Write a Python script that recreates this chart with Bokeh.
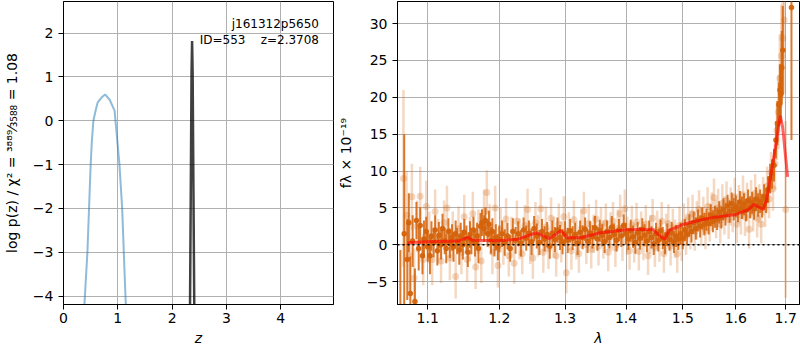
from bokeh.plotting import figure
from bokeh.layouts import row
from bokeh.models import Range1d, FixedTicker, Label, ColumnDataSource, PrintfTickFormatter
from bokeh.core.properties import value
from bokeh.embed import file_html
from bokeh.resources import INLINE

# ---------------- data: left panel (redshift PDF) ----------------
pz_x_ticks = [0, 1, 2, 3, 4]
pz_y_ticks = [-4, -3, -2, -1, 0, 1, 2]
pz_blue_z = [0.38, 0.44, 0.47, 0.50, 0.52, 0.55, 0.59, 0.63, 0.70, 0.765, 0.85, 0.94, 1.03, 1.08, 1.11, 1.15]
pz_blue_logp = [-4.3, -3.0, -2.0, -1.0, -0.5, 0.0, 0.23, 0.42, 0.53, 0.60, 0.48, 0.23, -1.0, -2.0, -3.0, -4.3]
pz_black_z = [2.328, 2.343, 2.357, 2.367, 2.377, 2.392, 2.408]
pz_black_logp = [-4.4, -1.6, 1.1, 1.82, 1.1, -1.6, -4.4]
annot_text = ["j161312p5650", "ID=553\u00a0\u00a0\u00a0\u00a0z=2.3708"]
annot_z = [4.703, 4.703]
annot_logp = [2.199, 1.849]
pz_ylabel = "log p(z) / χ² = ³⁸⁸⁹⁄₃₅₈₈ = 1.08"

# ---------------- data: right panel (spectrum) ----------------
wave_ticks = [1.1, 1.2, 1.3, 1.4, 1.5, 1.6, 1.7]
flux_ticks = [-5, 0, 5, 10, 15, 20, 25, 30]

light_wave = [1.068, 1.072, 1.076, 1.079, 1.082, 1.086, 1.090, 1.094, 1.098, 1.102, 1.106, 1.110, 1.114, 1.118,
              1.122, 1.126, 1.130, 1.134, 1.138, 1.142, 1.146, 1.150, 1.154, 1.158, 1.162, 1.166, 1.170, 1.174,
              1.178, 1.182, 1.186, 1.190, 1.194, 1.198, 1.202, 1.206, 1.210, 1.214, 1.218, 1.222, 1.226, 1.230,
              1.234, 1.238, 1.242, 1.246, 1.250, 1.254, 1.258, 1.262, 1.266, 1.270, 1.274, 1.278, 1.282, 1.286,
              1.290, 1.294, 1.298, 1.302, 1.306, 1.310, 1.314, 1.318, 1.322, 1.326, 1.330, 1.334, 1.338, 1.342,
              1.346, 1.350, 1.354, 1.358, 1.362, 1.366, 1.370, 1.374, 1.378, 1.382, 1.386, 1.390, 1.394, 1.398,
              1.402, 1.406, 1.410, 1.414, 1.418, 1.422, 1.426, 1.430, 1.434, 1.438, 1.442, 1.446, 1.450, 1.454,
              1.458, 1.462, 1.466, 1.470, 1.474, 1.478, 1.482, 1.486, 1.490, 1.494, 1.498, 1.502, 1.506, 1.510,
              1.514, 1.518, 1.522, 1.526, 1.530, 1.534, 1.538, 1.542, 1.546, 1.550, 1.554, 1.558, 1.562, 1.566,
              1.570, 1.574, 1.578, 1.582, 1.586, 1.590, 1.594, 1.598, 1.602, 1.606, 1.610, 1.614, 1.618, 1.622,
              1.626, 1.630, 1.634, 1.638, 1.642, 1.646, 1.650, 1.654, 1.658, 1.662, 1.666, 1.670, 1.674, 1.678,
              1.682, 1.685, 1.688, 1.691, 1.694, 1.697, 1.700]
light_flux = [9.0, 4.0, -1.5, 6.5, -4.5, 2.5, 6.6, -2.0, 5.2, 1.0, -2.0, 4.5, 0.5, -2.2,
              3.0, 5.0, -1.8, 1.5, -4.3, 2.2, -1.0, 3.8, -2.0, 0.8, 4.2, -3.0, 1.8, -2.2,
              4.5, 7.1, 2.5, -1.0, 5.0, -2.8, 2.0, 0.3, 3.5, -1.5, 1.0, -2.5, 3.2, 0.8,
              -1.2, 2.6, 4.8, 0.2, -1.8, 3.0, 1.2, 4.9, -1.0, 2.4, -0.5, 3.6, 1.0, -1.5,
              2.8, 0.4, 3.8, -3.8, 1.8, -0.8, 3.4, 0.6, -1.2, 2.2, 4.6, 0.0, 2.9, -0.6,
              1.5, 3.5, -0.2, 2.5, 0.7, 3.0, -1.0, 1.8, 3.2, -0.4, 2.2, 4.2, 0.4, 4.9,
              1.2, -0.8, 2.7, 0.2, 3.1, -0.9, 1.9, 0.5, 2.8, -1.5, 1.4, 3.6, -0.4, 2.0,
              0.3, 3.2, -1.2, 1.6, 2.9, -0.2, 2.3, 0.8, -1.2, 2.6, 0.4, 3.0, 1.2, 3.8,
              2.0, 4.2, 1.8, 3.3, 4.8, 2.4, 3.9, 2.0, 5.2, 3.0, 4.5, 6.4, 3.5, 5.0,
              2.8, 5.6, 4.0, 6.0, 3.4, 5.2, 4.3, 6.5, 2.8, 5.5, 4.0, 6.8, 3.8, 5.8,
              2.1, 6.2, 4.4, 7.0, 3.6, 5.6, 2.8, 6.6, 5.0, 8.0, 6.2, 9.8, 7.6, 11.0,
              15.5, 18.0, 22.6, 25.6, 28.0, 30.5, 4.8]
light_err = [12.0, 6.0, 5.0, 4.5, 4.0, 3.5, 4.0, 3.5, 3.5, 3.5, 3.5, 3.0, 3.0, 3.0,
             3.0, 3.0, 3.0, 3.0, 3.0, 3.0, 3.0, 3.0, 3.0, 3.0, 3.0, 3.0, 3.0, 3.0,
             3.0, 3.0, 3.0, 3.0, 3.0, 3.0, 3.0, 3.0, 2.8, 2.8, 2.8, 2.8, 2.8, 2.8,
             2.8, 2.8, 2.8, 2.8, 2.8, 2.8, 2.8, 2.8, 2.8, 2.8, 2.8, 2.8, 2.8, 2.8,
             2.8, 2.8, 2.8, 2.8, 2.6, 2.6, 2.6, 2.6, 2.6, 2.6, 2.6, 2.6, 2.6, 2.6,
             2.6, 2.6, 2.6, 2.6, 2.6, 2.6, 2.6, 2.6, 2.6, 2.6, 2.6, 2.6, 2.6, 2.6,
             2.6, 2.6, 2.6, 2.6, 2.6, 2.6, 2.6, 2.6, 2.6, 2.6, 2.6, 2.6, 2.6, 2.6,
             2.6, 2.6, 2.6, 2.6, 2.6, 2.6, 2.6, 2.6, 2.6, 2.6, 2.6, 2.6, 2.6, 2.6,
             2.6, 2.6, 2.6, 2.6, 2.6, 2.6, 2.6, 2.6, 2.6, 2.6, 2.6, 2.6, 2.6, 2.6,
             2.6, 2.6, 2.6, 2.6, 2.6, 2.6, 2.6, 2.6, 2.6, 2.6, 2.6, 2.6, 2.6, 2.6,
             2.6, 2.6, 2.6, 2.6, 2.6, 2.6, 2.6, 2.6, 2.6, 2.6, 2.6, 2.8, 3.0, 3.5,
             4.0, 5.0, 6.0, 7.0, 8.0, 10.0, 12.0]

dark_wave = [1.064, 1.069, 1.073, 1.075, 1.077, 1.080, 1.083, 1.085, 1.088, 1.090, 1.093, 1.095, 1.098, 1.100,
             1.103, 1.105, 1.108, 1.110, 1.113, 1.115, 1.118, 1.120, 1.123, 1.125, 1.128, 1.130, 1.133, 1.135,
             1.138, 1.140, 1.143, 1.145, 1.148, 1.150, 1.153, 1.155, 1.158, 1.160, 1.163, 1.165, 1.168, 1.170,
             1.173, 1.175, 1.178, 1.180, 1.183, 1.185, 1.188, 1.190, 1.193, 1.195, 1.198, 1.200, 1.204, 1.208,
             1.212, 1.216, 1.220, 1.224, 1.228, 1.232, 1.236, 1.240, 1.244, 1.248, 1.252, 1.256, 1.260, 1.264,
             1.268, 1.272, 1.276, 1.280, 1.284, 1.288, 1.292, 1.296, 1.300, 1.304, 1.308, 1.312, 1.316, 1.320,
             1.324, 1.328, 1.332, 1.336, 1.340, 1.344, 1.348, 1.352, 1.356, 1.360, 1.364, 1.368, 1.372, 1.376,
             1.380, 1.384, 1.388, 1.392, 1.396, 1.400, 1.404, 1.408, 1.412, 1.416, 1.420, 1.424, 1.428, 1.432,
             1.436, 1.440, 1.444, 1.448, 1.452, 1.456, 1.460, 1.464, 1.468, 1.472, 1.476, 1.480, 1.484, 1.488,
             1.492, 1.496, 1.500, 1.504, 1.508, 1.512, 1.516, 1.520, 1.524, 1.528, 1.532, 1.536, 1.540, 1.544,
             1.548, 1.552, 1.556, 1.560, 1.564, 1.568, 1.572, 1.576, 1.580, 1.584, 1.588, 1.592, 1.596, 1.600,
             1.604, 1.608, 1.612, 1.616, 1.620, 1.624, 1.628, 1.632, 1.636, 1.640, 1.644, 1.648, 1.652, 1.656,
             1.660, 1.664, 1.668, 1.672, 1.676, 1.680, 1.683, 1.686, 1.688, 1.690, 1.692, 1.694, 1.712]
dark_flux = [-12.0, 1.5, -2.0, 3.0, -6.6, 0.5, -7.7, 3.3, -0.5, 2.6, -1.5, 0.8, 1.8, -0.3,
             -1.5, 1.2, 0.3, 2.0, -0.8, 1.3, 0.0, 2.2, 0.5, -0.5, 1.8, 0.2, 1.0, -0.3,
             1.5, 0.5, -0.7, 1.2, 0.0, 1.7, 0.8, -1.0, 1.4, 0.5, 2.0, 0.2, 1.2, -0.5,
             2.5, 3.0, 2.2, 3.3, 1.5, 2.8, 0.6, 1.8, 0.2, 1.0, -0.3, 0.8, 1.5, 0.3,
             1.2, -0.5, 1.8, 0.6, 1.5, 0.2, 2.0, 0.9, 1.6, 0.4, 2.2, 1.2, 0.3, 1.8,
             0.8, 1.4, -0.2, 1.6, 0.7, 2.0, 1.0, 0.4, 1.5, 0.6, 1.9, 0.9, 1.4, 0.2,
             1.7, 1.0, 2.1, 0.5, 1.6, 1.1, 2.3, 0.8, 1.9, 1.3, 0.4, 1.8, 1.0, 2.4,
             1.4, 0.6, 2.0, 1.2, 2.6, 1.5, 0.8, 1.9, 1.1, 0.3, 1.6, 0.9, 2.1, 1.3,
             0.5, 1.8, 1.0, 0.1, 1.5, 0.6, 1.9, 0.9, 0.2, 1.4, 0.7, 1.6, 0.4, 1.2,
             0.8, 1.5, 0.9, 2.0, 1.4, 2.6, 1.8, 3.0, 2.2, 3.3, 2.5, 3.6, 2.8, 3.4,
             2.9, 4.0, 3.2, 3.8, 3.5, 4.4, 3.7, 4.8, 4.1, 5.3, 4.5, 5.6, 4.8, 5.2,
             4.6, 5.8, 5.0, 5.5, 4.7, 6.0, 5.1, 5.7, 4.9, 6.2, 5.4, 5.9, 5.3, 6.5,
             6.0, 7.5, 9.0, 9.6, 10.8, 14.2, 16.5, 19.0, 21.0, 20.5, 24.0, 26.4, 32.2]
dark_err = [11.3, 13.5, 5.5, 4.0, 5.0, 3.5, 4.5, 2.5, 3.0, 2.5, 2.5, 2.5, 2.0, 2.0,
            2.5, 2.0, 2.0, 2.0, 2.0, 1.8, 2.0, 2.0, 1.8, 2.0, 1.8, 2.0, 1.8, 2.0,
            1.8, 1.8, 2.0, 1.8, 2.0, 1.8, 1.8, 2.0, 1.8, 1.8, 1.8, 1.8, 1.8, 2.0,
            1.8, 1.8, 1.8, 1.8, 1.8, 1.8, 1.8, 1.8, 1.8, 1.8, 1.8, 1.8, 1.8, 1.8,
            1.8, 1.8, 1.8, 1.8, 1.7, 1.8, 1.7, 1.7, 1.7, 1.8, 1.7, 1.7, 1.7, 1.7,
            1.7, 1.7, 1.7, 1.7, 1.7, 1.7, 1.7, 1.7, 1.7, 1.7, 1.6, 1.6, 1.6, 1.6,
            1.6, 1.6, 1.6, 1.6, 1.6, 1.6, 1.6, 1.6, 1.5, 1.5, 1.5, 1.5, 1.5, 1.5,
            1.5, 1.5, 1.5, 1.5, 1.5, 1.5, 1.5, 1.5, 1.5, 1.5, 1.5, 1.5, 1.5, 1.5,
            1.5, 1.5, 1.5, 1.5, 1.5, 1.5, 1.5, 1.5, 1.5, 1.5, 1.5, 1.5, 1.5, 1.5,
            1.5, 1.5, 1.5, 1.5, 1.5, 1.5, 1.5, 1.5, 1.5, 1.5, 1.5, 1.5, 1.5, 1.5,
            1.5, 1.5, 1.5, 1.5, 1.5, 1.5, 1.5, 1.5, 1.5, 1.5, 1.5, 1.5, 1.5, 1.5,
            1.5, 1.5, 1.5, 1.5, 1.5, 1.5, 1.5, 1.5, 1.5, 1.6, 1.6, 1.6, 1.6, 1.7,
            1.7, 1.8, 2.0, 2.0, 2.2, 2.5, 3.0, 3.0, 3.5, 4.0, 5.0, 6.0, 18.0]

model_wave = [1.073, 1.100, 1.1417, 1.1556, 1.1614, 1.200, 1.2277, 1.2552, 1.2755, 1.2936, 1.303, 1.325,
              1.3575, 1.400, 1.4454, 1.463, 1.468, 1.4751, 1.500, 1.5292, 1.5602, 1.598, 1.624, 1.6358,
              1.654, 1.6606, 1.670, 1.680, 1.6888, 1.6937, 1.704]
model_flux = [0.27, 0.40, 0.50, 1.03, 0.60, 0.55, 0.76, 1.63, 0.85, 1.94, 0.95, 0.95,
              1.63, 2.03, 2.12, 0.95, 0.76, 1.94, 2.75, 3.30, 3.75, 4.07, 4.75, 5.47,
              4.79, 6.00, 9.60, 13.70, 17.50, 15.96, 9.20]
zero_line_wave = [1.0603, 1.7288]
zero_line_flux = [0.0, 0.0]
timestamp = "Fri Apr 24 22:54:24 2020"

FONT = "DejaVu Sans"
TICK_SIZE = "14px"
ORANGE = "#d4630b"


def minus(v):
    return ("%g" % v).replace("-", "\u2212")


def style(p):
    p.outline_line_color = "black"
    p.outline_line_width = 1
    p.background_fill_color = "white"
    p.border_fill_color = "white"
    for ax in (p.xaxis[0], p.yaxis[0]):
        ax.axis_line_color = "black"
        ax.major_tick_line_color = "black"
        ax.major_tick_out = 5
        ax.major_tick_in = 0
        ax.minor_tick_line_color = None
        ax.major_label_text_font = FONT
        ax.major_label_text_font_size = TICK_SIZE
        ax.major_label_text_color = "black"
        ax.axis_label_text_font = FONT
        ax.axis_label_text_font_size = TICK_SIZE
        ax.axis_label_text_color = "black"
        ax.axis_label_text_font_style = "normal"
    p.xaxis.major_label_standoff = 3
    p.yaxis.major_label_standoff = 5
    p.xaxis.axis_label_standoff = 4
    p.yaxis.axis_label_standoff = 10
    for g in (p.xgrid[0], p.ygrid[0]):
        g.grid_line_color = "#b0b0b0"
        g.grid_line_width = 1


# ---------------- left figure ----------------
p1 = figure(width=334, height=350, output_backend="svg", toolbar_location=None,
            x_range=Range1d(0, 4.97), y_range=Range1d(-4.19, 2.72),
            min_border_left=62, min_border_right=1, min_border_top=1, min_border_bottom=46)
style(p1)
p1.xaxis.ticker = FixedTicker(ticks=pz_x_ticks)
p1.yaxis.ticker = FixedTicker(ticks=pz_y_ticks)
p1.xgrid.ticker = FixedTicker(ticks=pz_x_ticks)
p1.ygrid.ticker = FixedTicker(ticks=pz_y_ticks)
p1.yaxis.major_label_overrides = {t: minus(t) for t in pz_y_ticks}
p1.xaxis.axis_label = "z"
p1.xaxis.axis_label_text_font_style = "italic"
p1.yaxis.axis_label = pz_ylabel

p1.line(pz_blue_z, pz_blue_logp, line_color="#1f77b4", line_alpha=0.5, line_width=2)
p1.line(pz_black_z, pz_black_logp, line_color="black", line_alpha=0.75, line_width=2.5)

p1.text(x=annot_z, y=annot_logp, text=annot_text, text_align="right", text_baseline="alphabetic",
        text_font=value(FONT), text_font_size=value("12px"), text_color="black")

# ---------------- right figure ----------------
p2 = figure(width=466, height=350, output_backend="svg", toolbar_location=None,
            x_axis_type="log", x_range=Range1d(1.0603, 1.7288), y_range=Range1d(-8.1, 33.0),
            min_border_left=58, min_border_right=1, min_border_top=1, min_border_bottom=46)
style(p2)
p2.xaxis.ticker = FixedTicker(ticks=wave_ticks)
p2.xgrid.ticker = FixedTicker(ticks=wave_ticks)
p2.yaxis.ticker = FixedTicker(ticks=flux_ticks)
p2.ygrid.ticker = FixedTicker(ticks=flux_ticks)
p2.xaxis.formatter = PrintfTickFormatter(format="%.1f")
p2.yaxis.major_label_overrides = {t: minus(t) for t in flux_ticks}
p2.xaxis.axis_label = "λ"
p2.xaxis.axis_label_text_font_style = "italic"
p2.yaxis.axis_label = "fλ × 10⁻¹⁹"

light_src = ColumnDataSource(dict(
    x=light_wave, y=light_flux,
    lo=[f - e for f, e in zip(light_flux, light_err)],
    hi=[f + e for f, e in zip(light_flux, light_err)]))
dark_src = ColumnDataSource(dict(
    x=dark_wave, y=dark_flux,
    lo=[f - e for f, e in zip(dark_flux, dark_err)],
    hi=[f + e for f, e in zip(dark_flux, dark_err)]))

p2.segment(x0="x", y0="lo", x1="x", y1="hi", source=light_src,
           line_color=ORANGE, line_alpha=0.25, line_width=2.5)
p2.scatter(x="x", y="y", source=light_src, size=7, fill_color=ORANGE, fill_alpha=0.25, line_color=None)
p2.segment(x0="x", y0="lo", x1="x", y1="hi", source=dark_src,
           line_color=ORANGE, line_alpha=0.85, line_width=2)
p2.scatter(x="x", y="y", source=dark_src, size=5.5, fill_color=ORANGE, fill_alpha=0.95, line_color=None)

p2.line(model_wave, model_flux, line_color="red", line_alpha=0.6, line_width=3)
p2.line(zero_line_wave, zero_line_flux, line_color="black", line_width=1.6, line_dash="2 3")

p2.add_layout(Label(x=1.7043, y=-12.2, text=timestamp, text_align="right", text_baseline="middle",
                    text_font=FONT, text_font_size="7px", text_color="black"))

layout = row(p1, p2)
open("out.html", "w").write(file_html(layout, INLINE))
